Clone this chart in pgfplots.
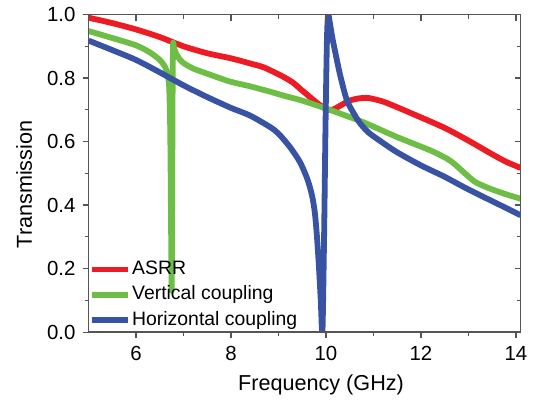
\documentclass[border=0pt]{standalone}
\usepackage{pgfplots}
\pgfplotsset{compat=1.18}
\usepackage{fontspec}
\setmainfont{Liberation Sans}
\definecolor{asrr}{RGB}{237,28,36}
\definecolor{vert}{RGB}{109,190,69}
\definecolor{horz}{RGB}{57,83,164}
\definecolor{axgray}{RGB}{85,85,85}
\begin{document}
\begin{tikzpicture}
\pgfplotsset{frame/.style={scale only axis,width=216pt,height=158.75pt,
  xmin=5,xmax=14.1,ymin=0,ymax=1,
  xtick={6,8,...,14},ytick={0,0.2,...,1.0},minor x tick num=1,minor y tick num=1,
  axis line style={axgray,line width=0.75pt},
  every tick/.style={axgray,line width=0.6pt},
  major tick length=3pt,minor tick length=2pt}}
\begin{axis}[name=ax,frame,
  tick align=outside,xtick pos=bottom,ytick pos=left,
  /pgf/number format/assume math mode=true,
  /pgf/number format/.cd,fixed,fixed zerofill,precision=1,/pgfplots/.cd,
  xticklabel={\pgfmathprintnumber[precision=0,fixed zerofill=false]{\tick}},
  tick label style={font=\fontsize{10.2}{12}\selectfont},
  xticklabel style={yshift=-0.5pt},
  label style={font=\fontsize{10.8}{13}\selectfont},
  xlabel={Frequency (GHz)},ylabel={Transmission},
  xlabel style={at={(axis description cs:0.538,-0.165)},anchor=center},
  ylabel style={at={(axis description cs:-0.149,0.465)},anchor=center},
  legend style={at={(axis description cs:0.0,0.003)},anchor=south west,draw=none,fill=none,
    inner xsep=0pt,inner ysep=0pt,row sep=2.1pt,
    font=\fontsize{9.7}{11}\selectfont,
    nodes={inner sep=0.8pt,text height=7pt,text depth=2pt}},
  legend cell align=left,
  legend image code/.code={\draw[#1,line width=2.8pt] (0pt,0pt) -- (18pt,0pt);},
  every axis plot/.append style={line width=2.9pt,line join=round,smooth,tension=0.45}]
\addplot[asrr] coordinates {(5.0,0.990)(5.5,0.973)(6.0,0.953)(6.5,0.929)(7.0,0.900)(7.5,0.878)
 (8.0,0.862)(8.4,0.846)(8.7,0.833)(9.1,0.804)(9.3,0.786)(9.45,0.767)(9.6,0.748)(9.8,0.723)
 (9.95,0.707)(10.05,0.700)(10.15,0.701)(10.3,0.713)(10.5,0.729)(10.7,0.736)(10.9,0.737)
 (11.2,0.726)(11.5,0.708)(12.0,0.676)(12.5,0.643)(13.0,0.603)(13.5,0.560)(13.8,0.536)(14.1,0.517)};
\addplot[vert] coordinates {(5.0,0.948)(5.5,0.926)(6.0,0.903)(6.3,0.880)(6.5,0.857)(6.6,0.838)
 (6.65,0.820)(6.68,0.798)(6.70,0.765)(6.72,0.64)(6.735,0.40)(6.75,0.13)(6.76,0.40)(6.77,0.75)
 (6.78,0.905)(6.80,0.894)(6.85,0.875)(6.92,0.859)(7.0,0.847)(7.2,0.830)(7.4,0.819)(7.7,0.803)
 (8.0,0.788)(8.4,0.774)(8.8,0.758)(9.1,0.745)(9.5,0.729)(9.8,0.714)(10.0,0.704)(10.3,0.688)
 (10.8,0.660)(11.5,0.614)(12.2,0.572)(12.55,0.546)(12.7,0.530)(12.85,0.510)(13.0,0.490)
 (13.15,0.472)(13.4,0.455)(13.75,0.436)(14.1,0.420)};
\addplot[horz] coordinates {(5.0,0.918)(5.5,0.888)(6.0,0.857)(6.5,0.818)(7.0,0.777)(7.5,0.740)
 (8.0,0.706)(8.4,0.682)(8.82,0.646)(9.0,0.625)(9.24,0.583)(9.45,0.536)(9.59,0.489)(9.66,0.457)
 (9.72,0.42)(9.77,0.37)(9.81,0.30)(9.85,0.21)(9.89,0.10)(9.925,0.0)(9.96,0.3)(9.99,0.65)(10.02,0.92)
 (10.045,1.0)(10.08,0.975)(10.13,0.93)(10.19,0.885)(10.3,0.808)(10.44,0.730)(10.6,0.685)
 (10.72,0.657)(10.9,0.628)(11.14,0.602)(11.5,0.566)(12.0,0.525)(12.5,0.489)(12.9,0.457)
 (13.3,0.427)(13.6,0.405)(14.1,0.368)};
\legend{ASRR,Vertical coupling,Horizontal coupling}
\end{axis}
\begin{axis}[frame,tick align=inside,xtick pos=top,ytick pos=right,
  xticklabels={},yticklabels={}]
\end{axis}
\pgfresetboundingbox
\path[use as bounding box] ([shift={(-44.25pt,-35.5pt)}]ax.south west) rectangle ([shift={(7.65pt,7.25pt)}]ax.north east);
\end{tikzpicture}
\end{document}
